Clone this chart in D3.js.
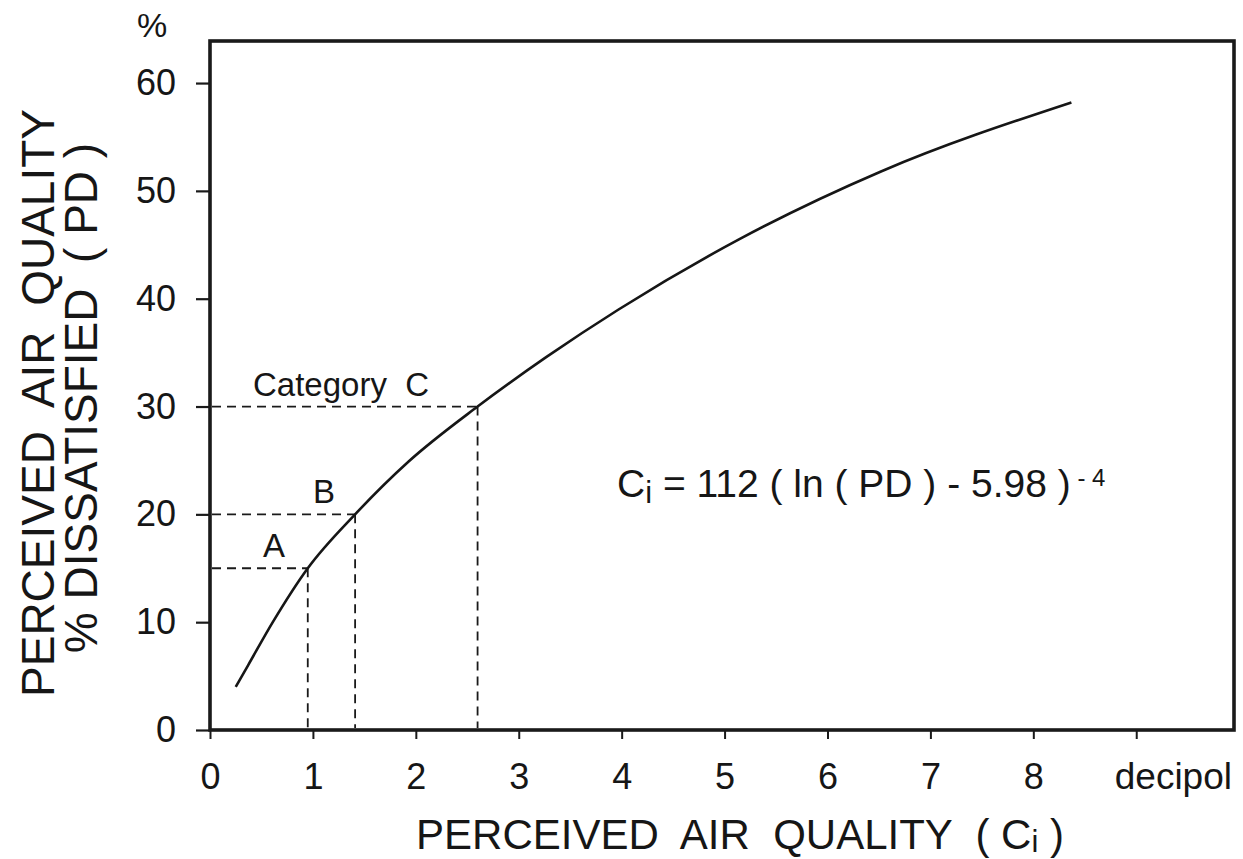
<!DOCTYPE html>
<html>
<head>
<meta charset="utf-8">
<script src="https://cdn.jsdelivr.net/npm/d3@7"></script>
<style>
  body { margin: 0; background: #fff; }
  text { font-family: "Liberation Sans", Arial, Helvetica, sans-serif; fill: #161616; }
</style>
</head>
<body>
<svg id="chart" width="1243" height="859"></svg>
<script>
// curve: perceived air quality (decipol) vs % dissatisfied
const ciValues = [0.25, 0.37, 0.61, 0.95, 1.41, 1.93, 2.6, 3.27, 3.97, 5.14, 6.52, 8.37];
const pdValues = [4, 6, 10, 15, 20, 24.9, 30, 34.6, 39.0, 45.5, 51.8, 58.2];

// comfort categories (dashed guides)
const catNames = ["A", "B", "Category  C"];
const catPD = [15, 20, 30];
const catCi = [0.95, 1.41, 2.6];

const xTicks = [0, 1, 2, 3, 4, 5, 6, 7, 8, 9];
const xTickLabels = ["0", "1", "2", "3", "4", "5", "6", "7", "8", ""];
const yTicks = [0, 10, 20, 30, 40, 50, 60];

const svg = d3.select("#chart");
const pLeft = 210, pRight = 1234, pTop = 41, pBottom = 730;

let x = d3.scaleLinear().domain([0, 9.95]).range([pLeft, pRight]);
let y = d3.scaleLinear().domain([0, 63.9]).range([pBottom, pTop]);

// y axis, ticks on the outside
let yAxis = svg.append("g")
  .attr("transform", `translate(${pLeft},0)`)
  .call(d3.axisLeft(y).tickValues(yTicks).tickSize(14).tickPadding(20));
yAxis.select(".domain").remove();
yAxis.selectAll("line").attr("stroke", "#1a1a1a").attr("stroke-width", 2.2);
yAxis.selectAll("text").attr("font-size", 36).attr("font-family", null).attr("fill", "#161616");

// x axis
let xAxis = svg.append("g")
  .attr("transform", `translate(0,${pBottom})`)
  .call(d3.axisBottom(x).tickValues(xTicks).tickSize(9).tickPadding(24)
    .tickFormat((d, i) => xTickLabels[i]));
xAxis.select(".domain").remove();
xAxis.selectAll("line").attr("stroke", "#1a1a1a").attr("stroke-width", 2);
xAxis.selectAll("text").attr("font-size", 36).attr("font-family", null).attr("fill", "#161616");

svg.append("text")
  .attr("x", pRight - 2).attr("y", 789)
  .attr("text-anchor", "end").attr("font-size", 37)
  .text("decipol");

// frame
svg.append("rect")
  .attr("x", pLeft).attr("y", pTop)
  .attr("width", pRight - pLeft).attr("height", pBottom - pTop)
  .attr("fill", "none").attr("stroke", "#1a1a1a").attr("stroke-width", 3.6);

// dashed guides
let guides = svg.append("g")
  .attr("stroke", "#1a1a1a").attr("stroke-width", 1.8)
  .attr("stroke-dasharray", "9,6").attr("fill", "none");
catPD.forEach((pd, i) => {
  guides.append("line")
    .attr("x1", x(0) + 2).attr("x2", x(catCi[i]))
    .attr("y1", y(pd)).attr("y2", y(pd));
  guides.append("line")
    .attr("x1", x(catCi[i])).attr("x2", x(catCi[i]))
    .attr("y1", y(pd)).attr("y2", y(0) - 2);
});

// labels of the categories
const labelLeft = [263, 313, 253];
catNames.forEach((name, i) => {
  svg.append("text")
    .attr("x", labelLeft[i]).attr("y", y(catPD[i]) - 11)
    .attr("font-size", 33)
    .style("white-space", "pre")
    .text(name);
});

// the curve
let pts = ciValues.map((c, i) => [c, pdValues[i]]);
let lineGen = d3.line()
  .x(d => x(d[0]))
  .y(d => y(d[1]))
  .curve(d3.curveMonotoneX);
svg.append("path")
  .datum(pts)
  .attr("d", lineGen)
  .attr("fill", "none")
  .attr("stroke", "#161616")
  .attr("stroke-width", 2.6);

// equation
let eq = svg.append("text")
  .attr("x", 617).attr("y", 497)
  .attr("font-size", 39)
  .style("white-space", "pre");
eq.append("tspan").text("C");
eq.append("tspan").attr("font-size", 31).attr("dy", 6).text("i");
eq.append("tspan").attr("dy", -6).text(" = 112 ( ln ( PD ) - 5.98 )");
eq.append("tspan").attr("font-size", 24).attr("dy", -11).text(" - 4");

// units mark above the y axis
svg.append("text")
  .attr("x", 152).attr("y", 37)
  .attr("text-anchor", "middle").attr("font-size", 34)
  .text("%");

// axis titles
let xt = svg.append("text")
  .attr("x", 740).attr("y", 849)
  .attr("text-anchor", "middle").attr("font-size", 42)
  .style("white-space", "pre");
xt.append("tspan").text("PERCEIVED  AIR  QUALITY  ( C");
xt.append("tspan").attr("font-size", 31).attr("dy", 3).text("i");
xt.append("tspan").attr("dy", -3).text(" )");

svg.append("text")
  .attr("transform", "translate(54,403) rotate(-90)")
  .attr("text-anchor", "middle").attr("font-size", 46)
  .style("white-space", "pre")
  .text("PERCEIVED  AIR  QUALITY");
svg.append("text")
  .attr("transform", "translate(97,398) rotate(-90)")
  .attr("text-anchor", "middle").attr("font-size", 46)
  .style("white-space", "pre")
  .text("% DISSATISFIED  ( PD )");
</script>
</body>
</html>
